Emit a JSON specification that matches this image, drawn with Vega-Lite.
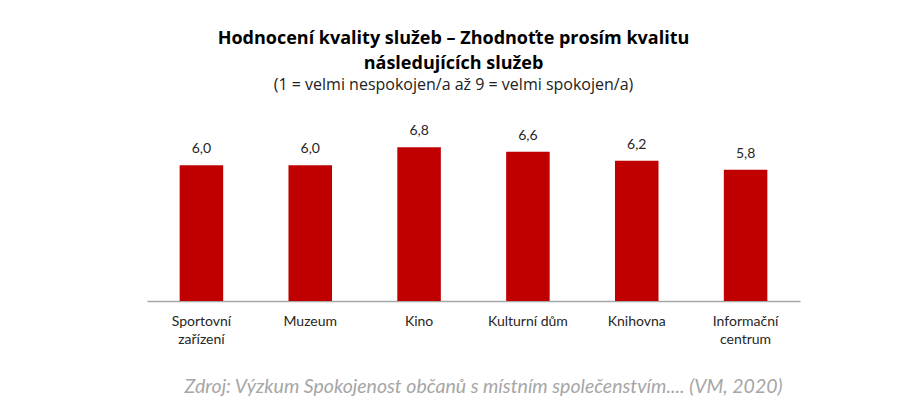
{
  "$schema": "https://vega.github.io/schema/vega-lite/v6.json",
  "width": 653,
  "height": 181,
  "autosize": "none",
  "padding": {"left": 147, "top": 120, "right": 101, "bottom": 115},
  "background": "white",
  "config": {
    "view": {"stroke": null},
    "font": "Lato",
    "locale": {"number": {"decimal": ",", "thousands": " ", "grouping": [3], "currency": ["", " Kč"]}}
  },
  "title": {
    "text": ["Hodnocení kvality služeb – Zhodnoťte prosím kvalitu", "následujících služeb"],
    "subtitle": "(1 = velmi nespokojen/a až 9 = velmi spokojen/a)",
    "font": "Open Sans",
    "fontSize": 18,
    "fontWeight": "bold",
    "color": "#000000",
    "lineHeight": 25,
    "subtitleFont": "Open Sans",
    "subtitleFontSize": 16,
    "subtitleColor": "#222222",
    "subtitlePadding": 4,
    "anchor": "middle",
    "frame": "group",
    "dx": -20,
    "offset": 27
  },
  "data": {
    "values": [
      {"sluzba": "Sportovní zařízení", "hodnota": 6.0},
      {"sluzba": "Muzeum", "hodnota": 6.0},
      {"sluzba": "Kino", "hodnota": 6.8},
      {"sluzba": "Kulturní dům", "hodnota": 6.6},
      {"sluzba": "Knihovna", "hodnota": 6.2},
      {"sluzba": "Informační centrum", "hodnota": 5.8}
    ]
  },
  "encoding": {
    "x": {
      "field": "sluzba",
      "type": "nominal",
      "sort": null,
      "scale": {"paddingInner": 0.6, "paddingOuter": 0.3},
      "axis": {
        "title": "Zdroj: Výzkum Spokojenost občanů s místním společenstvím.... (VM, 2020)",
        "titleFont": "Lato",
        "titleFontStyle": "italic",
        "titleFontWeight": "normal",
        "titleFontSize": 19.5,
        "titleColor": "#a6a6a6",
        "titlePadding": 31,
        "titleX": 336,
        "labelAngle": 0,
        "labelFont": "Lato",
        "labelFontSize": 14,
        "labelColor": "#262626",
        "labelPadding": 13,
        "labelLineHeight": 18,
        "labelExpr": "datum.label == 'Sportovní zařízení' ? ['Sportovní', 'zařízení'] : datum.label == 'Informační centrum' ? ['Informační', 'centrum'] : datum.label",
        "ticks": false,
        "domainColor": "#a6a6a6",
        "domainWidth": 1.5,
        "grid": false
      }
    },
    "y": {
      "field": "hodnota",
      "type": "quantitative",
      "scale": {"domain": [0, 8], "nice": false},
      "axis": null
    }
  },
  "layer": [
    {"mark": {"type": "bar", "color": "#c00000"}},
    {
      "mark": {"type": "text", "baseline": "bottom", "dy": -9, "fontSize": 14, "color": "#262626", "font": "Lato"},
      "encoding": {"text": {"field": "hodnota", "type": "quantitative", "format": ".1f"}}
    }
  ]
}
